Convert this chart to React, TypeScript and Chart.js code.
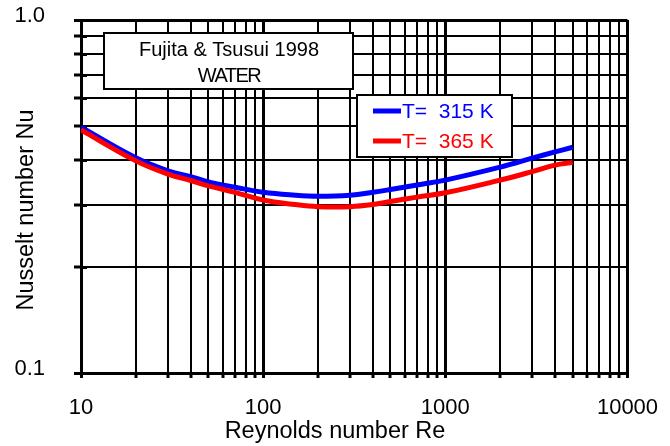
import { useEffect, useRef } from "react";
import { Chart, registerables } from "chart.js";

Chart.register(...registerables);

// Reynolds numbers and Nusselt numbers
const RE = [10, 20, 30, 40, 50, 70, 100, 150, 200, 300, 400, 500, 700, 1000, 2000, 3000, 4000, 5000];
const NU_315 = [0.497, 0.407, 0.374, 0.36, 0.348, 0.336, 0.325, 0.319, 0.317, 0.319, 0.325, 0.331, 0.341, 0.352, 0.383, 0.406, 0.423, 0.436];
const NU_365 = [0.488, 0.399, 0.366, 0.351, 0.339, 0.325, 0.309, 0.3, 0.296, 0.296, 0.3, 0.306, 0.315, 0.324, 0.352, 0.372, 0.388, 0.395];

// Log grid positions and the ones that carry a label
const X_GRID = [
  10, 20, 30, 40, 50, 60, 70, 80, 90,
  100, 200, 300, 400, 500, 600, 700, 800, 900,
  1000, 2000, 3000, 4000, 5000, 6000, 7000, 8000, 9000,
  10000,
];
const Y_GRID = [0.1, 0.2, 0.3, 0.4, 0.5, 0.6, 0.7, 0.8, 0.9, 1.0];
const X_LABELED = [10, 100, 1000, 10000];
const Y_LABELS: [number, string][] = [
  [0.1, "0.1"],
  [1.0, "1.0"],
];

const SERIES_LABELS = ["T=  315 K", "T=  365 K"];
const SERIES_COLORS = ["#0000ff", "#ff0000"];
const NOTE_LINES = ["Fujita & Tsusui 1998", "WATER"];
const X_TITLE = "Reynolds number Re";
const Y_TITLE = "Nusselt number Nu";

const FONT = "'Liberation Sans', Arial, Helvetica, sans-serif";

const isDecade = (v: number) =>
  Math.abs(Math.log10(v) - Math.round(Math.log10(v))) < 1e-9;

// short inward tick marks on the Nu axis, drawn over the grid
const innerTicks = {
  id: "innerTicks",
  beforeDatasetsDraw(chart: Chart) {
    const ctx = chart.ctx;
    const yScale: any = chart.scales.y;
    const left = chart.chartArea.left;
    ctx.save();
    ctx.strokeStyle = "#000";
    ctx.lineWidth = 3;
    Y_GRID.forEach((v) => {
      const y = Math.round(yScale.getPixelForValue(v)) + 0.5;
      ctx.beginPath();
      ctx.moveTo(left, y);
      ctx.lineTo(left + 6, y);
      ctx.stroke();
    });
    ctx.restore();
  },
};

const overlay = {
  id: "overlay",
  afterDraw(chart: Chart) {
    const ctx = chart.ctx;
    ctx.save();

    // source note box
    ctx.fillStyle = "#fff";
    ctx.strokeStyle = "#000";
    ctx.lineWidth = 2;
    ctx.fillRect(104, 33, 249, 56);
    ctx.strokeRect(104, 33, 249, 56);
    ctx.fillStyle = "#000";
    ctx.textAlign = "center";
    ctx.textBaseline = "middle";
    ctx.font = `20px ${FONT}`;
    ctx.fillText(NOTE_LINES[0], 229, 50);
    (ctx as any).letterSpacing = "-1.5px";
    ctx.fillText(NOTE_LINES[1], 229, 76);
    (ctx as any).letterSpacing = "0px";

    // legend box
    ctx.fillStyle = "#fff";
    ctx.fillRect(357, 95, 155, 62);
    ctx.strokeRect(357, 95, 155, 62);
    ctx.textAlign = "left";
    ctx.font = `21px ${FONT}`;
    const rows = [111, 141];
    rows.forEach((y, i) => {
      ctx.strokeStyle = SERIES_COLORS[i];
      ctx.lineWidth = 5;
      ctx.beginPath();
      ctx.moveTo(373, y);
      ctx.lineTo(401, y);
      ctx.stroke();
      ctx.fillStyle = SERIES_COLORS[i];
      ctx.fillText(SERIES_LABELS[i], 402, y + 1);
    });

    // axis titles
    ctx.fillStyle = "#000";
    ctx.textAlign = "center";
    ctx.textBaseline = "middle";
    ctx.font = `23.5px ${FONT}`;
    ctx.fillText(X_TITLE, 335, 432);
    ctx.translate(27, 210);
    ctx.rotate(-Math.PI / 2);
    ctx.fillText(Y_TITLE, 0, 0);

    ctx.restore();
  },
};

const noScalePadding = (scale: any) => {
  scale.paddingTop = 0;
  scale.paddingBottom = 0;
  scale.paddingLeft = 0;
  scale.paddingRight = 0;
};

export default function App() {
  const canvasRef = useRef<HTMLCanvasElement | null>(null);

  useEffect(() => {
    if (!canvasRef.current) return;
    const gridWidth = (c: any) => (c.tick && isDecade(c.tick.value) ? 3 : 2);

    const chart = new Chart(canvasRef.current, {
      type: "line",
      data: {
        datasets: [
          {
            label: SERIES_LABELS[0],
            data: RE.map((x, i) => ({ x, y: NU_315[i] })),
            borderColor: SERIES_COLORS[0],
            borderWidth: 5,
            pointRadius: 0,
            tension: 0.4,
            fill: false,
            order: 1,
          },
          {
            label: SERIES_LABELS[1],
            data: RE.map((x, i) => ({ x, y: NU_365[i] })),
            borderColor: SERIES_COLORS[1],
            borderWidth: 5,
            pointRadius: 0,
            tension: 0.4,
            fill: false,
            order: 0,
          },
        ],
      },
      options: {
        responsive: false,
        animation: false,
        devicePixelRatio: 1,
        layout: { padding: { left: 0, top: 20, right: 42.5, bottom: 0 } },
        plugins: {
          legend: { display: false },
          tooltip: { enabled: false },
          title: { display: false },
        },
        scales: {
          x: {
            type: "logarithmic",
            min: 10,
            max: 10000,
            afterBuildTicks: (scale: any) => {
              scale.ticks = X_GRID.map((value) => ({ value }));
            },
            afterFit: (scale: any) => {
              scale.height = 73;
              noScalePadding(scale);
            },
            grid: {
              color: "#000",
              lineWidth: gridWidth,
              tickLength: 5,
              tickWidth: 3,
              tickColor: "#000",
            },
            border: { display: true, color: "#000", width: 3 },
            ticks: {
              autoSkip: false,
              maxRotation: 0,
              padding: 17,
              color: "#000",
              font: { family: FONT, size: 22 },
              callback: (value: any) =>
                X_LABELED.includes(Number(value)) ? String(value) : "",
            },
          },
          y: {
            type: "logarithmic",
            min: 0.1,
            max: 1.0,
            afterBuildTicks: (scale: any) => {
              scale.ticks = Y_GRID.map((value) => ({ value }));
            },
            afterFit: (scale: any) => {
              scale.width = 81;
              noScalePadding(scale);
            },
            grid: {
              color: "#000",
              lineWidth: gridWidth,
              tickLength: 7,
              tickWidth: 3,
              tickColor: "#000",
            },
            border: { display: true, color: "#000", width: 3 },
            ticks: {
              autoSkip: false,
              padding: 29,
              labelOffset: -4,
              color: "#000",
              font: { family: FONT, size: 22 },
              callback: (value: any) => {
                const hit = Y_LABELS.find(([v]) => Math.abs(v - Number(value)) < 1e-9);
                return hit ? hit[1] : "";
              },
            },
          },
        },
      },
      plugins: [innerTicks, overlay],
    });

    return () => chart.destroy();
  }, []);

  return (
    <div style={{ position: "absolute", left: 0, top: 0, width: 670, height: 446, background: "#fff" }}>
      <canvas ref={canvasRef} width={670} height={446} style={{ display: "block" }} />
    </div>
  );
}
